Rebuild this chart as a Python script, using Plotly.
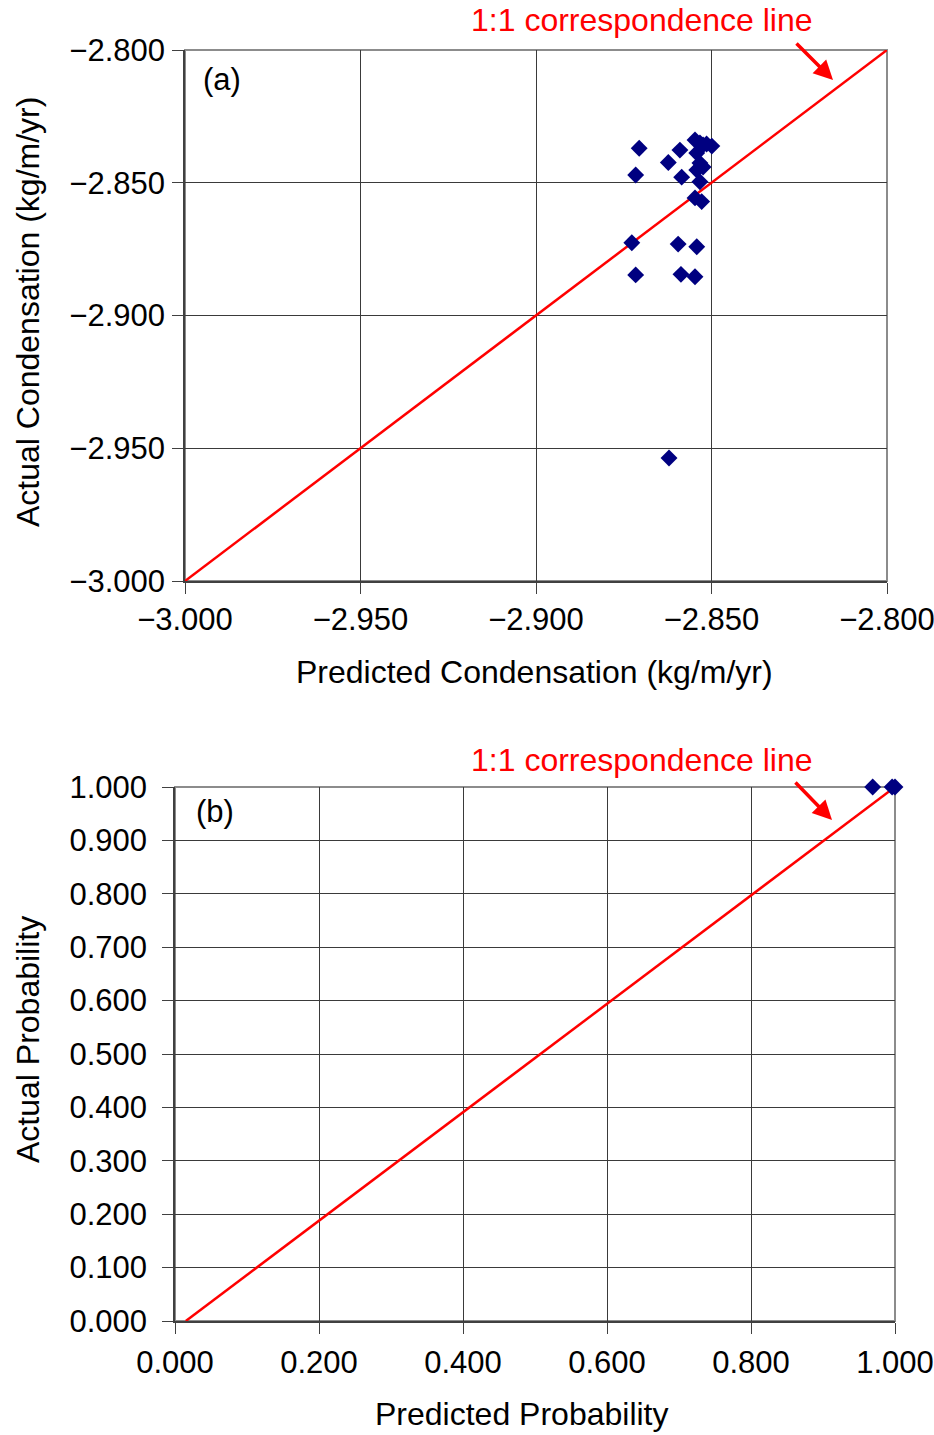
import plotly.graph_objects as go

# Panel (a) data: predicted vs actual condensation (kg/m/yr)
pred_cond = [-2.8706, -2.8716, -2.8727, -2.8716, -2.8623, -2.8590, -2.8585, -2.8595,
             -2.8587, -2.8547, -2.8533, -2.8524, -2.8514, -2.8499, -2.8542, -2.8533,
             -2.8524, -2.8542, -2.8533, -2.8547, -2.8528, -2.8542, -2.8547, -2.8621]
actual_cond = [-2.8370, -2.8471, -2.8726, -2.8847, -2.8424, -2.8377, -2.8479, -2.8731,
               -2.8845, -2.8339, -2.8350, -2.8358, -2.8354, -2.8362, -2.8388, -2.8426,
               -2.8441, -2.8452, -2.8496, -2.8557, -2.8571, -2.8741, -2.8854, -2.9537]
line_a_x = [-3.0, -2.8]
line_a_y = [-3.0, -2.8]

# Panel (b) data: predicted vs actual probability
pred_prob = [0.969, 0.996, 1.000]
actual_prob = [1.000, 1.000, 1.000]
line_b_x = [0.015, 1.0]
line_b_y = [0.0, 1.0]

a_ticks = [-3.0, -2.95, -2.9, -2.85, -2.8]
b_xticks = [0.0, 0.2, 0.4, 0.6, 0.8, 1.0]
b_yticks = [0.0, 0.1, 0.2, 0.3, 0.4, 0.5, 0.6, 0.7, 0.8, 0.9, 1.0]

W, H = 934, 1435
FONT = "Liberation Sans, Arial, sans-serif"
TICK = 31
TITLE = 32

fig = go.Figure()

fig.add_trace(go.Scatter(x=line_a_x, y=line_a_y, mode="lines",
                         line=dict(color="#FF0000", width=2.5), xaxis="x", yaxis="y",
                         showlegend=False, hoverinfo="skip"))
fig.add_trace(go.Scatter(x=pred_cond, y=actual_cond, mode="markers",
                         marker=dict(symbol="diamond", size=13, color="#000080"),
                         xaxis="x", yaxis="y", showlegend=False, cliponaxis=False))
fig.add_trace(go.Scatter(x=line_b_x, y=line_b_y, mode="lines",
                         line=dict(color="#FF0000", width=2.5), xaxis="x2", yaxis="y2",
                         showlegend=False, hoverinfo="skip"))
fig.add_trace(go.Scatter(x=pred_prob, y=actual_prob, mode="markers",
                         marker=dict(symbol="diamond", size=13, color="#000080"),
                         xaxis="x2", yaxis="y2", showlegend=False, cliponaxis=False))

def px_x(p):
    return p / W

def px_y(p):
    return 1 - p / H

common = dict(showgrid=True, gridcolor="#3a3a3a", gridwidth=1, zeroline=False,
              showline=True, linecolor="#404040", linewidth=1.5,
              ticks="outside", ticklen=11, tickcolor="#404040", tickwidth=1,
              tickfont=dict(family=FONT, size=TICK, color="#000000"),
              automargin=False, tickmode="array", tickformat=".3f",
              ticklabeloverflow="allow")

fig.update_layout(
    width=W, height=H,
    margin=dict(l=0, r=0, t=0, b=0),
    paper_bgcolor="white", plot_bgcolor="white",
    template=None,
    showlegend=False,
    xaxis=dict(domain=[px_x(185), px_x(887)], range=[-3.0, -2.8], anchor="y",
               tickvals=a_ticks, ticklabelstandoff=-1, **common),
    yaxis=dict(domain=[px_y(581), px_y(50)], range=[-3.0, -2.8], anchor="x",
               tickvals=a_ticks, ticklabelstandoff=1, **common),
    xaxis2=dict(domain=[px_x(175), px_x(895)], range=[0.0, 1.0], anchor="y2",
                tickvals=b_xticks, ticklabelstandoff=2, **common),
    yaxis2=dict(domain=[px_y(1321), px_y(787)], range=[0.0, 1.0], anchor="x2",
                tickvals=b_yticks, ticklabelstandoff=9, **common),
)

# Grey frame on top/right of each plot area
for xr, yr in (("x domain", "y domain"), ("x2 domain", "y2 domain")):
    fig.add_shape(type="rect", xref=xr, yref=yr, x0=0, x1=1, y0=0, y1=1,
                  line=dict(color="#8c8c8c", width=2), layer="below")

ann = []
# Axis titles
ann.append(dict(text="Predicted Condensation (kg/m/yr)", x=px_x(534), y=px_y(672),
                xref="paper", yref="paper", showarrow=False,
                font=dict(family=FONT, size=TITLE, color="black"),
                xanchor="center", yanchor="middle"))
ann.append(dict(text="Actual Condensation (kg/m/yr)", x=px_x(28), y=px_y(312),
                xref="paper", yref="paper", showarrow=False, textangle=-90,
                font=dict(family=FONT, size=TITLE, color="black"),
                xanchor="center", yanchor="middle"))
ann.append(dict(text="Predicted Probability", x=px_x(521), y=px_y(1414),
                xref="paper", yref="paper", showarrow=False,
                font=dict(family=FONT, size=TITLE, color="black"),
                xanchor="center", yanchor="middle"))
ann.append(dict(text="Actual Probability", x=px_x(28), y=px_y(1040),
                xref="paper", yref="paper", showarrow=False, textangle=-90,
                font=dict(family=FONT, size=TITLE, color="black"),
                xanchor="center", yanchor="middle"))
# Panel labels
ann.append(dict(text="(a)", x=px_x(201), y=px_y(80), xref="paper", yref="paper",
                showarrow=False, font=dict(family=FONT, size=31, color="black"),
                xanchor="left", yanchor="middle"))
ann.append(dict(text="(b)", x=px_x(194), y=px_y(812), xref="paper", yref="paper",
                showarrow=False, font=dict(family=FONT, size=31, color="black"),
                xanchor="left", yanchor="middle"))
# 1:1 labels and arrows
for ty, (hx, hy), (tx, tyy) in ((20, (833, 80), (795, 42)), (760, (832, 820), (794, 781))):
    ann.append(dict(text="1:1 correspondence line", x=px_x(642), y=px_y(ty),
                    xref="paper", yref="paper", showarrow=False,
                    font=dict(family=FONT, size=32, color="#FF0000"),
                    xanchor="center", yanchor="middle"))
    ann.append(dict(text="", x=px_x(hx), y=px_y(hy), xref="paper", yref="paper",
                    ax=tx - hx, ay=tyy - hy, axref="pixel", ayref="pixel",
                    showarrow=True, arrowhead=2, arrowsize=1.1, arrowwidth=3.5,
                    arrowcolor="#FF0000", standoff=0))

fig.update_layout(annotations=ann)

fig.write_html("out.html", config={"displayModeBar": False},
               post_script="document.body.style.margin='0';document.body.style.overflow='hidden';")
